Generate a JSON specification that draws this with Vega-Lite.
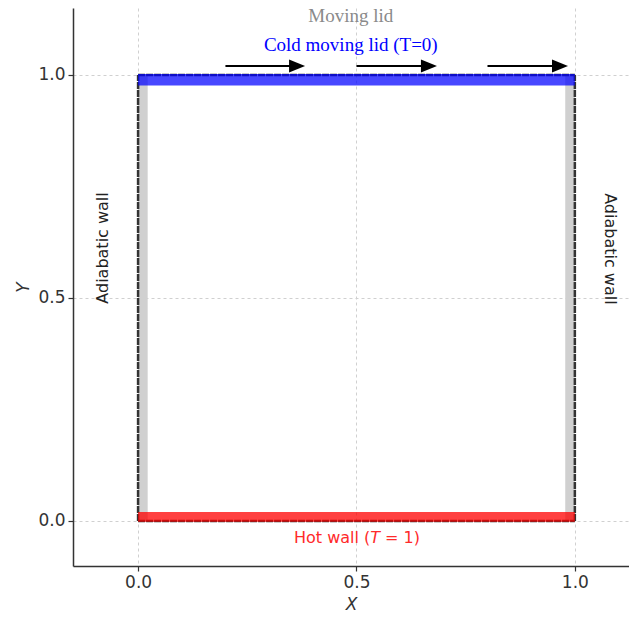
{
  "$schema": "https://vega.github.io/schema/vega-lite/v6.json",
  "width": 556,
  "height": 558,
  "autosize": "none",
  "padding": {"left": 73, "top": 8, "right": 0, "bottom": 51},
  "background": "white",
  "datasets": {
    "grayBands": [
      {"x": 0, "x2": 0.022, "y": 0, "y2": 1},
      {"x": 0.978, "x2": 1, "y": 0, "y2": 1}
    ],
    "edges": [
      {"x": 0, "x2": 0, "y": 0, "y2": 1},
      {"x": 1, "x2": 1, "y": 0, "y2": 1},
      {"x": 0, "x2": 1, "y": 0, "y2": 0},
      {"x": 0, "x2": 1, "y": 1, "y2": 1}
    ],
    "lid": [{"x": 0, "x2": 1, "y": 0.976, "y2": 1.002}],
    "hot": [{"x": 0, "x2": 1, "y": -0.002, "y2": 0.02}],
    "arrows": [
      {"x": 0.2, "x2": 0.364, "y": 1.02},
      {"x": 0.5, "x2": 0.666, "y": 1.02},
      {"x": 0.8, "x2": 0.966, "y": 1.02}
    ],
    "heads": [
      {"x": 0.364, "y": 1.02},
      {"x": 0.666, "y": 1.02},
      {"x": 0.966, "y": 1.02}
    ],
    "movingLid": [{"x": 0.487, "y": 1.132, "label": "Moving lid"}],
    "coldLid": [{"x": 0.487, "y": 1.067, "label": "Cold moving lid (T=0)"}],
    "hotPre": [{"x": 0.5316, "y": -0.038, "label": "Hot wall ("}],
    "hotT": [{"x": 0.5316, "y": -0.038, "label": "T"}],
    "hotPost": [{"x": 0.5656, "y": -0.038, "label": "= 1)"}],
    "leftWall": [{"x": -0.08, "y": 0.612, "label": "Adiabatic wall"}],
    "rightWall": [{"x": 1.08, "y": 0.61, "label": "Adiabatic wall"}]
  },
  "layer": [
    {
      "data": {"name": "grayBands"},
      "mark": {"type": "rect", "color": "#d0d0d0"},
      "encoding": {
        "x": {"field": "x", "type": "quantitative", "title": "X", "scale": {"domain": [-0.149, 1.124], "nice": false, "zero": false}, "axis": {"values": [0, 0.5, 1], "format": ".1f"}},
        "x2": {"field": "x2"},
        "y": {"field": "y", "type": "quantitative", "title": "Y", "scale": {"domain": [-0.101, 1.15], "nice": false, "zero": false}, "axis": {"values": [0, 0.5, 1], "format": ".1f"}},
        "y2": {"field": "y2"}
      }
    },
    {
      "data": {"name": "edges"},
      "mark": {"type": "rule", "color": "#333", "strokeWidth": 2.5, "strokeDash": [7, 1]},
      "encoding": {
        "x": {"field": "x", "type": "quantitative", "title": "X"},
        "x2": {"field": "x2"},
        "y": {"field": "y", "type": "quantitative", "title": "Y"},
        "y2": {"field": "y2"}
      }
    },
    {
      "data": {"name": "lid"},
      "mark": {"type": "rect", "color": "blue", "opacity": 0.72},
      "encoding": {
        "x": {"field": "x", "type": "quantitative", "title": "X"},
        "x2": {"field": "x2"},
        "y": {"field": "y", "type": "quantitative", "title": "Y"},
        "y2": {"field": "y2"}
      }
    },
    {
      "data": {"name": "hot"},
      "mark": {"type": "rect", "color": "red", "opacity": 0.75},
      "encoding": {
        "x": {"field": "x", "type": "quantitative", "title": "X"},
        "x2": {"field": "x2"},
        "y": {"field": "y", "type": "quantitative", "title": "Y"},
        "y2": {"field": "y2"}
      }
    },
    {
      "data": {"name": "arrows"},
      "mark": {"type": "rule", "color": "black", "strokeWidth": 2},
      "encoding": {
        "x": {"field": "x", "type": "quantitative", "title": "X"},
        "x2": {"field": "x2"},
        "y": {"field": "y", "type": "quantitative", "title": "Y"}
      }
    },
    {
      "data": {"name": "heads"},
      "mark": {"type": "point", "shape": "M-1,-0.8L1,0L-1,0.8Z", "filled": true, "color": "black", "opacity": 1, "size": 256},
      "encoding": {
        "x": {"field": "x", "type": "quantitative", "title": "X"},
        "y": {"field": "y", "type": "quantitative", "title": "Y"}
      }
    },
    {
      "data": {"name": "movingLid"},
      "mark": {"type": "text", "font": "Liberation Serif", "fontSize": 19, "color": "#8a8a8a", "align": "center", "baseline": "middle"},
      "encoding": {
        "x": {"field": "x", "type": "quantitative", "title": "X"},
        "y": {"field": "y", "type": "quantitative", "title": "Y"},
        "text": {"field": "label"}
      }
    },
    {
      "data": {"name": "coldLid"},
      "mark": {"type": "text", "font": "Liberation Serif", "fontSize": 19, "color": "blue", "align": "center", "baseline": "middle"},
      "encoding": {
        "x": {"field": "x", "type": "quantitative", "title": "X"},
        "y": {"field": "y", "type": "quantitative", "title": "Y"},
        "text": {"field": "label"}
      }
    },
    {
      "data": {"name": "hotPre"},
      "mark": {"type": "text", "font": "DejaVu Sans", "fontSize": 16, "color": "#ff2a2a", "align": "right", "baseline": "middle"},
      "encoding": {
        "x": {"field": "x", "type": "quantitative", "title": "X"},
        "y": {"field": "y", "type": "quantitative", "title": "Y"},
        "text": {"field": "label"}
      }
    },
    {
      "data": {"name": "hotT"},
      "mark": {"type": "text", "font": "DejaVu Sans", "fontSize": 16, "fontStyle": "italic", "color": "#ff2a2a", "align": "left", "baseline": "middle"},
      "encoding": {
        "x": {"field": "x", "type": "quantitative", "title": "X"},
        "y": {"field": "y", "type": "quantitative", "title": "Y"},
        "text": {"field": "label"}
      }
    },
    {
      "data": {"name": "hotPost"},
      "mark": {"type": "text", "font": "DejaVu Sans", "fontSize": 16, "color": "#ff2a2a", "align": "left", "baseline": "middle"},
      "encoding": {
        "x": {"field": "x", "type": "quantitative", "title": "X"},
        "y": {"field": "y", "type": "quantitative", "title": "Y"},
        "text": {"field": "label"}
      }
    },
    {
      "data": {"name": "leftWall"},
      "mark": {"type": "text", "font": "DejaVu Sans", "fontSize": 16, "color": "#222", "align": "center", "baseline": "middle", "angle": 270},
      "encoding": {
        "x": {"field": "x", "type": "quantitative", "title": "X"},
        "y": {"field": "y", "type": "quantitative", "title": "Y"},
        "text": {"field": "label"}
      }
    },
    {
      "data": {"name": "rightWall"},
      "mark": {"type": "text", "font": "DejaVu Sans", "fontSize": 16, "color": "#222", "align": "center", "baseline": "middle", "angle": 90},
      "encoding": {
        "x": {"field": "x", "type": "quantitative", "title": "X"},
        "y": {"field": "y", "type": "quantitative", "title": "Y"},
        "text": {"field": "label"}
      }
    }
  ],
  "config": {
    "view": {"stroke": null},
    "axis": {
      "grid": true,
      "gridColor": "#d0d0d0",
      "gridDash": [3, 3],
      "gridWidth": 1,
      "domainColor": "#333",
      "domainWidth": 1.5,
      "tickColor": "#333",
      "tickSize": 5,
      "tickWidth": 1.2,
      "labelColor": "#333",
      "labelFont": "DejaVu Sans",
      "labelFontSize": 17,
      "labelPadding": 3,
      "titleFont": "DejaVu Sans",
      "titleFontSize": 17,
      "titleFontStyle": "italic",
      "titleFontWeight": "normal",
      "titleColor": "#333"
    },
    "axisX": {"titlePadding": 6},
    "axisY": {"titlePadding": 5}
  }
}
